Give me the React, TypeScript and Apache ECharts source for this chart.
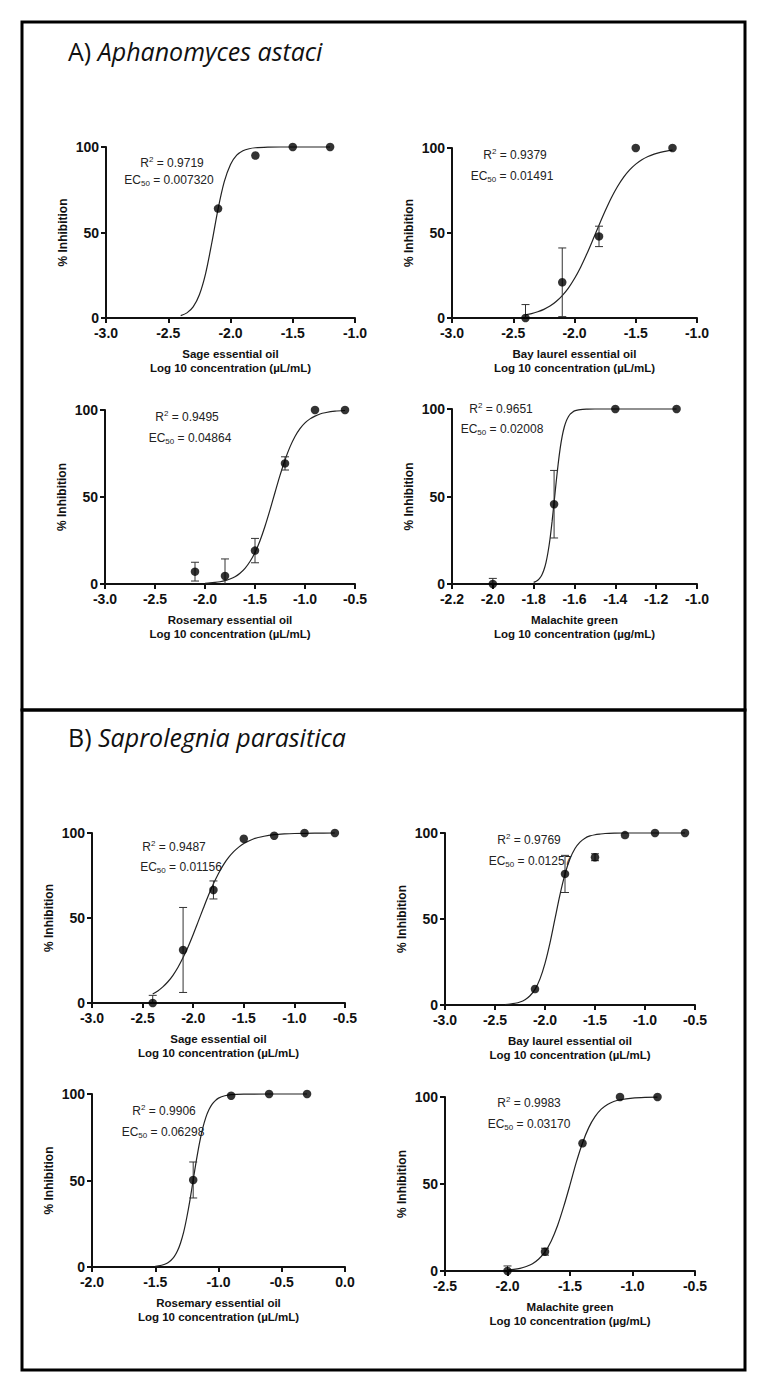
import React, { useEffect, useRef } from "react";
import * as echarts from "echarts";

// ---------------- DATA ----------------
// A) Aphanomyces astaci
const aSagePtX = [-2.1, -1.8, -1.5, -1.2];
const aSagePtY = [64, 95, 100, 100];
const aSageErr = [0, 0, 0, 0];
const aSageFitX = [-2.4, -2.35, -2.3, -2.25, -2.2, -2.15, -2.1, -2.05, -2.0, -1.95, -1.9, -1.85, -1.8, -1.7, -1.6, -1.4, -1.2];
const aSageFitY = [1.4, 3.0, 6.5, 13.6, 26.0, 44.0, 63.7, 79.7, 89.8, 95.2, 97.8, 99.0, 99.55, 99.9, 100, 100, 100];

const aBayPtX = [-2.4, -2.1, -1.8, -1.5, -1.2];
const aBayPtY = [0, 21, 48, 100, 100];
const aBayErr = [7.9, 20.2, 6, 0, 0];
const aBayFitX = [-2.4, -2.35, -2.3, -2.25, -2.2, -2.15, -2.1, -2.05, -2.0, -1.95, -1.9, -1.85, -1.8, -1.75, -1.7, -1.65, -1.6, -1.55, -1.5, -1.45, -1.4, -1.35, -1.3, -1.25, -1.2];
const aBayFitY = [1.9, 2.6, 3.7, 5.1, 7.0, 9.7, 13.2, 17.6, 23.2, 29.9, 37.6, 46.0, 54.6, 62.9, 70.6, 77.2, 82.7, 87.1, 90.5, 93.1, 95.0, 96.4, 97.4, 98.2, 98.7];

const aRosPtX = [-2.1, -1.8, -1.5, -1.2, -0.9, -0.6];
const aRosPtY = [7.1, 4.6, 19.2, 69.3, 100, 100];
const aRosErr = [5.4, 9.8, 7, 3.8, 0, 0];
const aRosFitX = [-2.0, -1.95, -1.9, -1.85, -1.8, -1.75, -1.7, -1.65, -1.6, -1.55, -1.5, -1.45, -1.4, -1.35, -1.3, -1.25, -1.2, -1.15, -1.1, -1.05, -1.0, -0.95, -0.9, -0.85, -0.8, -0.7, -0.6];
const aRosFitY = [0.4, 0.6, 0.9, 1.3, 1.9, 2.9, 4.2, 6.2, 9.0, 12.9, 18.1, 24.9, 33.2, 42.6, 52.6, 62.4, 71.3, 78.8, 84.8, 89.3, 92.6, 94.9, 96.5, 97.7, 98.4, 99.3, 99.7];

const aMalPtX = [-2.0, -1.7, -1.4, -1.1];
const aMalPtY = [0, 45.6, 100, 100];
const aMalErr = [3.2, 19.3, 0, 0];
const aMalFitX = [-1.8, -1.79, -1.78, -1.77, -1.76, -1.75, -1.74, -1.73, -1.72, -1.71, -1.7, -1.69, -1.68, -1.67, -1.66, -1.65, -1.64, -1.63, -1.62, -1.61, -1.6, -1.58, -1.56, -1.54, -1.5, -1.4, -1.3, -1.2, -1.1];
const aMalFitY = [0.9, 1.4, 2.1, 3.4, 5.2, 8.0, 12.1, 18.0, 25.7, 35.5, 46.6, 58.0, 68.6, 77.6, 84.6, 89.7, 93.2, 95.6, 97.2, 98.2, 98.9, 99.5, 99.8, 99.9, 100, 100, 100, 100, 100];

// B) Saprolegnia parasitica
const bSagePtX = [-2.4, -2.1, -1.8, -1.5, -1.2, -0.9, -0.6];
const bSagePtY = [0, 31.2, 66.5, 96.6, 98.4, 100, 100];
const bSageErr = [4.5, 25, 5.3, 0, 0, 0, 0];
const bSageFitX = [-2.4, -2.35, -2.3, -2.25, -2.2, -2.15, -2.1, -2.05, -2.0, -1.95, -1.9, -1.85, -1.8, -1.75, -1.7, -1.65, -1.6, -1.55, -1.5, -1.4, -1.3, -1.2, -1.1, -1.0, -0.8, -0.6];
const bSageFitY = [5.3, 7.1, 9.5, 12.5, 16.3, 21.0, 26.7, 33.1, 40.3, 48.0, 55.7, 63.2, 70.1, 76.2, 81.4, 85.6, 89.0, 91.7, 93.8, 96.6, 98.1, 99.0, 99.45, 99.7, 99.9, 100];

const bBayPtX = [-2.1, -1.8, -1.5, -1.2, -0.9, -0.6];
const bBayPtY = [9.3, 76.2, 85.9, 98.8, 100, 100];
const bBayErr = [0, 10.8, 2, 0, 0, 0];
const bBayFitX = [-2.4, -2.35, -2.3, -2.25, -2.2, -2.15, -2.1, -2.05, -2.0, -1.95, -1.9, -1.85, -1.8, -1.75, -1.7, -1.65, -1.6, -1.55, -1.5, -1.45, -1.4, -1.3, -1.2, -0.9, -0.6];
const bBayFitY = [0.3, 0.56, 1.0, 1.76, 3.1, 5.4, 9.1, 15.2, 24.2, 36.1, 50.2, 64.2, 76.1, 85.0, 91.0, 94.7, 97.0, 98.3, 99.0, 99.4, 99.7, 99.9, 100, 100, 100];

const bRosPtX = [-1.2, -0.9, -0.6, -0.3];
const bRosPtY = [50.3, 99, 100, 100];
const bRosErr = [10.4, 0, 0, 0];
const bRosFitX = [-1.5, -1.475, -1.45, -1.425, -1.4, -1.375, -1.35, -1.325, -1.3, -1.275, -1.25, -1.225, -1.2, -1.175, -1.15, -1.125, -1.1, -1.075, -1.05, -1.025, -1.0, -0.95, -0.9, -0.8, -0.6, -0.3];
const bRosFitY = [0.4, 0.64, 1.0, 1.6, 2.5, 3.9, 6.0, 9.2, 13.9, 20.3, 28.9, 39.0, 50.3, 61.6, 71.8, 80.1, 86.5, 91.0, 94.1, 96.2, 97.6, 99.0, 99.6, 99.9, 100, 100];

const bMalPtX = [-2.0, -1.7, -1.4, -1.1, -0.8];
const bMalPtY = [0, 11.1, 73.4, 100, 100];
const bMalErr = [2.9, 2, 0, 0, 0];
const bMalFitX = [-2.0, -1.95, -1.9, -1.85, -1.8, -1.75, -1.7, -1.65, -1.6, -1.55, -1.5, -1.45, -1.4, -1.35, -1.3, -1.25, -1.2, -1.15, -1.1, -1.0, -0.9, -0.8];
const bMalFitY = [0.6, 0.9, 1.5, 2.6, 4.2, 6.9, 11.0, 17.3, 26.0, 37.1, 49.5, 62.4, 73.6, 82.4, 88.7, 93.0, 95.7, 97.4, 98.4, 99.4, 99.8, 99.9];

// axis ranges [min, max, interval]
const xRanges = [
  [-3.0, -1.0, 0.5],
  [-3.0, -1.0, 0.5],
  [-3.0, -0.5, 0.5],
  [-2.2, -1.0, 0.2],
  [-3.0, -0.5, 0.5],
  [-3.0, -0.5, 0.5],
  [-2.0, 0.0, 0.5],
  [-2.5, -0.5, 0.5],
];
const yTicks = [0, 50, 100];

const xNames = [
  "Sage essential oil\nLog 10 concentration (µL/mL)",
  "Bay laurel essential oil\nLog 10 concentration (µL/mL)",
  "Rosemary essential oil\nLog 10 concentration (µL/mL)",
  "Malachite green\nLog 10 concentration (µg/mL)",
  "Sage essential oil\nLog 10 concentration (µL/mL)",
  "Bay laurel essential oil\nLog 10 concentration (µL/mL)",
  "Rosemary essential oil\nLog 10 concentration (µL/mL)",
  "Malachite green\nLog 10 concentration (µg/mL)",
];
const yName = "% Inhibition";
const r2Values = ["0.9719", "0.9379", "0.9495", "0.9651", "0.9487", "0.9769", "0.9906", "0.9983"];
const ec50Values = ["0.007320", "0.01491", "0.04864", "0.02008", "0.01156", "0.01257", "0.06298", "0.03170"];
const panelTitles = ["Aphanomyces astaci", "Saprolegnia parasitica"];

// ---------------- LAYOUT ----------------
const grids = [
  { left: 106, top: 147, width: 249, height: 171 },
  { left: 452, top: 148, width: 245, height: 170 },
  { left: 105, top: 410, width: 250, height: 174 },
  { left: 452, top: 409, width: 245, height: 175 },
  { left: 92, top: 833, width: 253, height: 170 },
  { left: 445, top: 833, width: 250, height: 172 },
  { left: 92, top: 1094, width: 253, height: 173 },
  { left: 445, top: 1097, width: 250, height: 174 },
];
const annPos = [
  [172, 163, 169, 180],
  [515, 155, 512, 176],
  [187, 417, 190, 438],
  [501, 409, 502, 429],
  [174, 847, 181, 867],
  [529, 840, 530, 861],
  [164, 1111, 163, 1132],
  [529, 1103, 529, 1124],
];

const panels = [
  [aSagePtX, aSagePtY, aSageErr, aSageFitX, aSageFitY],
  [aBayPtX, aBayPtY, aBayErr, aBayFitX, aBayFitY],
  [aRosPtX, aRosPtY, aRosErr, aRosFitX, aRosFitY],
  [aMalPtX, aMalPtY, aMalErr, aMalFitX, aMalFitY],
  [bSagePtX, bSagePtY, bSageErr, bSageFitX, bSageFitY],
  [bBayPtX, bBayPtY, bBayErr, bBayFitX, bBayFitY],
  [bRosPtX, bRosPtY, bRosErr, bRosFitX, bRosFitY],
  [bMalPtX, bMalPtY, bMalErr, bMalFitX, bMalFitY],
];

const FONT = "Liberation Sans";
const TITLE_FONT = "Open Sans";

function buildOption() {
  const grid: any[] = [];
  const xAxis: any[] = [];
  const yAxis: any[] = [];
  const series: any[] = [];
  const graphic: any[] = [];

  panels.forEach((p, i) => {
    const [px, py, pe, fx, fy] = p as number[][];
    const g = grids[i];
    grid.push({ left: g.left, top: g.top, width: g.width, height: g.height, containLabel: false });
    const [mn, mx, iv] = xRanges[i];
    xAxis.push({
      type: "value",
      gridIndex: i,
      min: mn,
      max: mx,
      interval: iv,
      name: xNames[i],
      nameLocation: "middle",
      nameGap: 29,
      nameTextStyle: { fontFamily: FONT, fontWeight: "bold", fontSize: 11.5, color: "#111", lineHeight: 14 },
      axisLine: { onZero: false, lineStyle: { color: "#111", width: 2 } },
      axisTick: { show: true, length: 5, inside: false, lineStyle: { color: "#111", width: 2 } },
      axisLabel: {
        fontFamily: FONT,
        fontWeight: "bold",
        fontSize: 14,
        color: "#111",
        margin: 8,
        formatter: (v: number) => v.toFixed(1),
      },
      splitLine: { show: false },
    });
    yAxis.push({
      type: "value",
      gridIndex: i,
      min: 0,
      max: 100,
      interval: 50,
      name: yName,
      nameLocation: "middle",
      nameGap: 37,
      nameTextStyle: { fontFamily: FONT, fontWeight: "bold", fontSize: 12, color: "#111" },
      axisLine: { show: true, onZero: false, lineStyle: { color: "#111", width: 2 } },
      axisTick: { show: true, length: 5, lineStyle: { color: "#111", width: 2 } },
      axisLabel: {
        fontFamily: FONT,
        fontWeight: "bold",
        fontSize: 14,
        color: "#111",
        margin: 7,
        formatter: (v: number) => (yTicks.indexOf(v) >= 0 ? String(v) : ""),
      },
      splitLine: { show: false },
    });

    series.push({
      type: "line",
      xAxisIndex: i,
      yAxisIndex: i,
      data: fx.map((x, k) => [x, fy[k]]),
      showSymbol: false,
      smooth: 0.3,
      lineStyle: { color: "#222", width: 1.2 },
      clip: false,
      z: 2,
    });
    series.push({
      type: "custom",
      xAxisIndex: i,
      yAxisIndex: i,
      clip: true,
      data: px.map((x, k) => [x, py[k], pe[k]]).filter((d) => d[2] > 0),
      encode: { x: 0, y: 1 },
      renderItem: (params: any, api: any) => {
        const x = api.value(0);
        const y = api.value(1);
        const e = api.value(2);
        const top = api.coord([x, y + e]);
        const bot = api.coord([x, y - e]);
        const cap = 4;
        const st = { stroke: "#333", lineWidth: 1 };
        return {
          type: "group",
          children: [
            { type: "line", shape: { x1: top[0], y1: top[1], x2: bot[0], y2: bot[1] }, style: st },
            { type: "line", shape: { x1: top[0] - cap, y1: top[1], x2: top[0] + cap, y2: top[1] }, style: st },
            { type: "line", shape: { x1: bot[0] - cap, y1: bot[1], x2: bot[0] + cap, y2: bot[1] }, style: st },
          ],
        };
      },
      z: 3,
    });
    series.push({
      type: "scatter",
      xAxisIndex: i,
      yAxisIndex: i,
      data: px.map((x, k) => [x, py[k]]),
      symbol: "circle",
      symbolSize: 8.5,
      itemStyle: { color: "#000" },
      clip: false,
      z: 4,
    });

    const a = annPos[i];
    graphic.push({
      type: "text",
      x: a[0],
      y: a[1],
      style: {
        text: `{m|R}{s|2}{m| = ${r2Values[i]}}`,
        align: "center",
        verticalAlign: "middle",
        rich: {
          m: { fontFamily: FONT, fontSize: 12, fill: "#222", lineHeight: 15, verticalAlign: "middle" },
          s: { fontFamily: FONT, fontSize: 8, fill: "#222", lineHeight: 9, verticalAlign: "top" },
        },
      },
    });
    graphic.push({
      type: "text",
      x: a[2],
      y: a[3],
      style: {
        text: `{m|EC}{s|50}{m| = ${ec50Values[i]}}`,
        align: "center",
        verticalAlign: "middle",
        rich: {
          m: { fontFamily: FONT, fontSize: 12, fill: "#222", lineHeight: 15, verticalAlign: "middle" },
          s: { fontFamily: FONT, fontSize: 8, fill: "#222", lineHeight: 9, verticalAlign: "bottom" },
        },
      },
    });
  });

  // frames
  graphic.push({
    type: "rect",
    shape: { x: 22, y: 22, width: 723, height: 688 },
    style: { fill: "none", stroke: "#000", lineWidth: 3 },
    z: 10,
  });
  graphic.push({
    type: "rect",
    shape: { x: 22, y: 710, width: 723, height: 660 },
    style: { fill: "none", stroke: "#000", lineWidth: 3 },
    z: 10,
  });
  // panel titles
  const titleRich = {
    n: { fontFamily: TITLE_FONT, fontSize: 25, fill: "#111" },
    it: { fontFamily: TITLE_FONT, fontSize: 25, fontStyle: "italic", fill: "#111" },
  };
  graphic.push({
    type: "text",
    x: 68,
    y: 51,
    style: { text: `{n|A) }{it|${panelTitles[0]}}`, verticalAlign: "middle", align: "left", rich: titleRich },
  });
  graphic.push({
    type: "text",
    x: 68,
    y: 737,
    style: { text: `{n|B) }{it|${panelTitles[1]}}`, verticalAlign: "middle", align: "left", rich: titleRich },
  });

  return {
    animation: false,
    backgroundColor: "#fff",
    grid,
    xAxis,
    yAxis,
    series,
    graphic,
  };
}

export default function App() {
  const ref = useRef<HTMLDivElement>(null);
  useEffect(() => {
    if (!ref.current) return;
    const chart = echarts.init(ref.current, undefined, { renderer: "svg" });
    chart.setOption(buildOption() as any);
    return () => chart.dispose();
  }, []);
  return (
    <div
      ref={ref}
      style={{ position: "absolute", left: 0, top: 0, width: 766, height: 1393, background: "#fff" }}
    />
  );
}
